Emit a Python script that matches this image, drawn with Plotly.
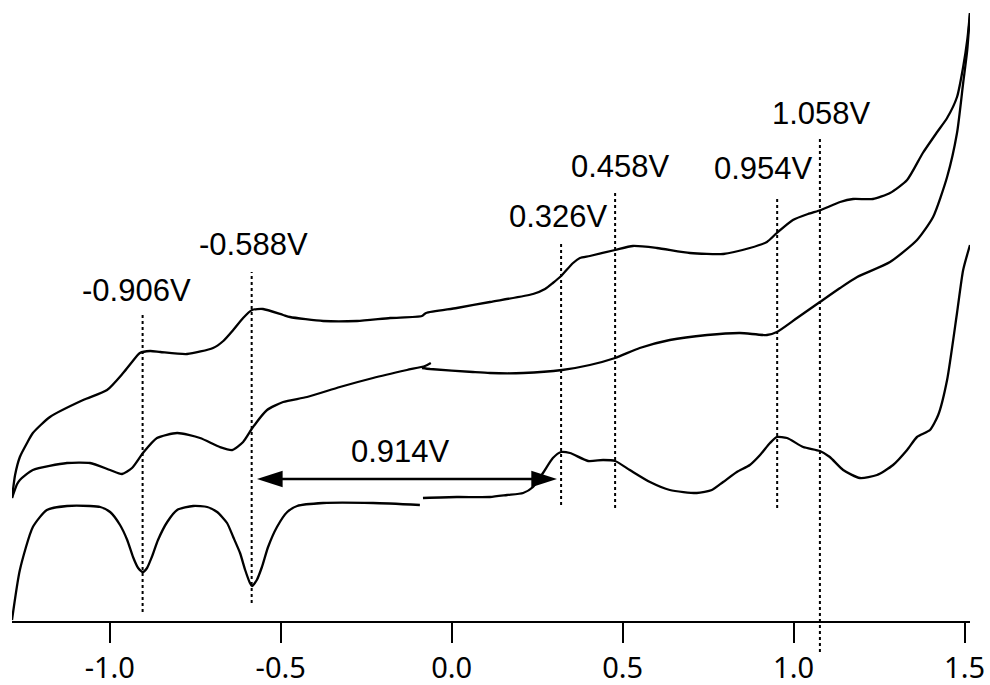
import plotly.graph_objects as go

# ---- data (potential in V, current in arbitrary units) ----
cv_fwd_v = [-1.286, -1.277, -1.263, -1.242, -1.225, -1.175, -1.078, -1.008, -0.961, -0.935,
            -0.912, -0.882, -0.852, -0.774, -0.698, -0.668, -0.639, -0.610, -0.584, -0.552,
            -0.493, -0.473, -0.376, -0.277, -0.180, -0.087, -0.075, 0.015, 0.112, 0.238,
            0.273, 0.296, 0.320, 0.355, 0.375, 0.404, 0.478, 0.530, 0.600, 0.697,
            0.794, 0.872, 0.922, 0.951, 0.998, 1.042, 1.080, 1.136, 1.174, 1.232,
            1.282, 1.332, 1.378, 1.420, 1.449, 1.478, 1.496, 1.508, 1.516]
cv_fwd_i = [124, 147, 165, 179, 189, 205, 222, 232, 249, 260,
            269, 271, 270, 268, 274, 281, 292, 304, 312, 313,
            307, 305, 301, 301, 304, 306, 309, 314, 320, 328,
            333, 339, 346, 359, 364, 366, 372, 376, 374, 369,
            368, 374, 380, 389, 402, 408, 412, 420, 423, 423,
            429, 442, 469, 490, 504, 525, 555, 582, 609]

cv_rev1_v = [1.516, 1.508, 1.496, 1.478, 1.449, 1.408, 1.361, 1.282, 1.186, 1.136,
             1.077, 1.010, 0.951, 0.922, 0.843, 0.747, 0.638, 0.550, 0.478, 0.404,
             0.323, 0.209, 0.112, 0.062, -0.063, -0.087]
cv_rev1_i = [609, 572, 539, 489, 445, 405, 382, 360, 345, 334,
             320, 304, 290, 287, 289, 287, 282, 274, 264, 257,
             252, 249, 249, 250, 253, 254]

cv_rev2_v = [-0.061, -0.078, -0.131, -0.230, -0.327, -0.423, -0.493, -0.540, -0.581, -0.610,
             -0.642, -0.678, -0.736, -0.803, -0.862, -0.903, -0.935, -0.964, -0.999, -1.058,
             -1.125, -1.225, -1.263, -1.271, -1.286]
cv_rev2_i = [259, 256, 252, 244, 235, 225, 220, 212, 195, 180,
             172, 175, 184, 189, 184, 169, 154, 148, 152, 159,
             159, 152, 142, 138, 124]

dpv1_v = [-1.286, -1.263, -1.225, -1.184, -1.125, -1.058, -1.028, -0.999, -0.970, -0.949,
          -0.932, -0.917, -0.903, -0.891, -0.877, -0.859, -0.832, -0.803, -0.756, -0.715,
          -0.686, -0.657, -0.639, -0.619, -0.604, -0.590, -0.584, -0.570, -0.555, -0.537,
          -0.511, -0.481, -0.452, -0.376, -0.230, -0.093]
dpv1_i = [2, 52, 95, 112, 116, 116, 115, 110, 97, 82,
          65, 54, 50, 54, 65, 82, 100, 112, 116, 115,
          110, 99, 85, 69, 52, 39, 36, 42, 55, 75,
          95, 110, 116, 119, 119, 117]

dpv2_v = [-0.084, 0.015, 0.112, 0.162, 0.209, 0.238, 0.267, 0.296, 0.320, 0.346,
          0.399, 0.443, 0.478, 0.521, 0.580, 0.638, 0.717, 0.761, 0.794, 0.834,
          0.872, 0.902, 0.931, 0.951, 0.981, 1.028, 1.077, 1.106, 1.145, 1.194,
          1.244, 1.291, 1.332, 1.361, 1.399, 1.423, 1.449, 1.478, 1.496, 1.516]
dpv2_i = [124, 125, 125, 127, 129, 135, 149, 164, 170, 169,
          161, 162, 161, 152, 140, 132, 129, 132, 140, 150,
          157, 167, 179, 185, 184, 175, 171, 165, 152, 144,
          147, 157, 172, 185, 192, 207, 242, 309, 352, 377]

# dotted marker lines: position, top, bottom
mark_v = [-0.904, -0.585, 0.320, 0.478, 0.952, 1.077]
mark_top = [310, 350, 380, 430, 425, 485]
mark_bot = [10, 19, 117, 114, 114, -30]

# peak labels: text, x, y
label_text = ["-0.906V", "-0.588V", "0.326V", "0.458V", "0.954V", "1.058V"]
label_v = [-0.922, -0.581, 0.311, 0.495, 0.913, 1.083]
label_i = [332, 377.5, 405.5, 456, 454, 509]

# separation arrow
sep_text = "0.914V"
sep_from = -0.5695
sep_to = 0.308
sep_level = 143
sep_label_v = -0.150
sep_label_i = 170.5

tick_vals = [-1.0, -0.5, 0.0, 0.5, 1.0, 1.5]
tick_text = ["-1.0", "-0.5", "0.0", "0.5", "1.0", "1.5"]

# ---- figure ----
fig = go.Figure()
line_style = dict(color="black", width=2.3, shape="spline", smoothing=0.6)
for xs, ys in [(cv_fwd_v, cv_fwd_i), (cv_rev1_v, cv_rev1_i), (cv_rev2_v, cv_rev2_i),
               (dpv1_v, dpv1_i), (dpv2_v, dpv2_i)]:
    fig.add_trace(go.Scatter(x=xs, y=ys, mode="lines", line=line_style, hoverinfo="skip"))

for v, t, b in zip(mark_v, mark_top, mark_bot):
    fig.add_trace(go.Scatter(x=[v, v], y=[b, t], mode="lines",
                             line=dict(color="black", width=2, dash="dot"), hoverinfo="skip"))

# arrow shaft + heads
span = sep_to - sep_from
fig.add_trace(go.Scatter(x=[sep_from + 0.03 * span, sep_to - 0.03 * span], y=[sep_level, sep_level],
                         mode="lines", line=dict(color="black", width=2.5), hoverinfo="skip"))
fig.add_trace(go.Scatter(x=[sep_from, sep_to], y=[sep_level, sep_level], mode="markers",
                         marker=dict(symbol="arrow", size=27, color="black", angle=[-90, 90],
                                     line=dict(width=0)),
                         hoverinfo="skip"))

for t, x, y in zip(label_text, label_v, label_i):
    fig.add_annotation(x=x, y=y, text=t, showarrow=False, xanchor="center", yanchor="middle",
                       font=dict(family="Liberation Sans, Arial", size=31, color="black"))
fig.add_annotation(x=sep_label_v, y=sep_label_i, text=sep_text, showarrow=False,
                   xanchor="center", yanchor="middle",
                   font=dict(family="Liberation Sans, Arial", size=31, color="black"))

fig.update_layout(
    width=990, height=685,
    margin=dict(l=12, r=20, t=0, b=30),
    paper_bgcolor="white", plot_bgcolor="white",
    showlegend=False,
    xaxis=dict(range=[-1.286, 1.516], anchor="free", position=33 / 655,
               showline=True, linecolor="black", linewidth=2,
               ticks="outside", ticklen=20, tickwidth=2, tickcolor="black",
               tickvals=tick_vals, ticktext=tick_text,
               tickfont=dict(family="Noto Sans", size=29, color="black"),
               showgrid=False, zeroline=False),
    yaxis=dict(range=[-33, 622], visible=False, showgrid=False, zeroline=False),
)

# remove the default page margin so the 990x685 figure fills the window exactly
fig.write_html("out.html",
               config={"displayModeBar": False},
               post_script="document.body.style.margin='0';document.body.style.overflow='hidden';")
